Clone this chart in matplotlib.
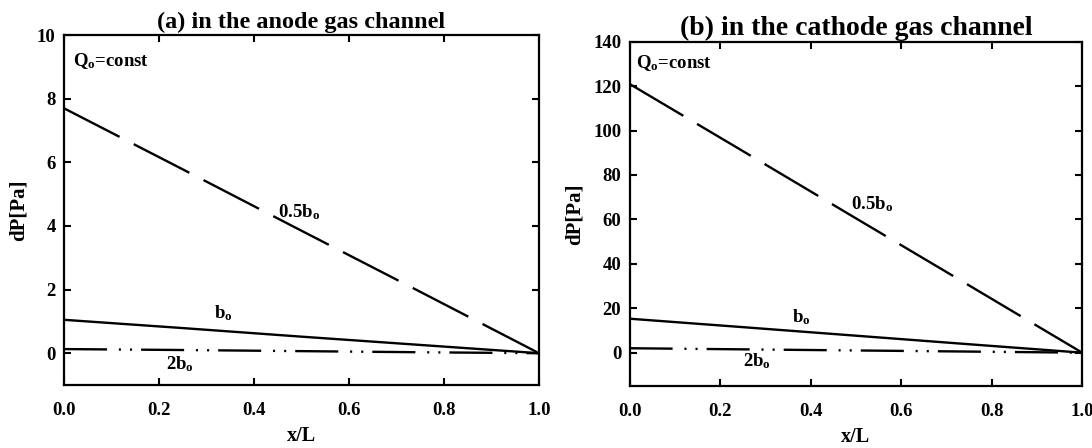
import numpy as np
import matplotlib
matplotlib.use("Agg")
import matplotlib.pyplot as plt

plt.rcParams['font.family'] = 'Liberation Serif'
plt.rcParams['font.weight'] = 'bold'
plt.rcParams['mathtext.fontset'] = 'custom'
plt.rcParams['mathtext.rm'] = 'Liberation Serif:bold'
plt.rcParams['mathtext.bf'] = 'Liberation Serif:bold'
plt.rcParams['mathtext.default'] = 'bf'
plt.rcParams['lines.scale_dashes'] = False

# x/L positions along the channel
x = np.array([0.0, 0.25, 0.5, 0.75, 1.0])

# anode channel pressure drop [Pa]
anode_half = np.array([7.7, 5.78, 3.85, 1.93, 0.0])
anode_b = np.array([1.05, 0.79, 0.52, 0.26, 0.0])
anode_2b = np.array([0.13, 0.10, 0.065, 0.03, 0.0])

# cathode channel pressure drop [Pa]
cath_half = np.array([121.0, 90.8, 60.5, 30.3, 0.0])
cath_b = np.array([15.3, 11.5, 7.65, 3.8, 0.0])
cath_2b = np.array([2.0, 1.5, 1.0, 0.5, 0.0])

long_dash = (0, (45, 11.5))
dash_dot_dot = (0, (31, 8.5, 1.5, 6.5, 1.5, 6.5))

fig = plt.figure(figsize=(10.92, 4.48), dpi=100)
ax1 = fig.add_axes([0.0586, 0.1406, 0.435, 0.781])
ax2 = fig.add_axes([0.5765, 0.1384, 0.4145, 0.7685])


def style(ax, ylim, yticks):
    ax.set_xlim(0, 1)
    ax.set_ylim(*ylim)
    ax.set_xticks([0.0, 0.2, 0.4, 0.6, 0.8, 1.0])
    ax.set_xticklabels(['0.0', '0.2', '0.4', '0.6', '0.8', '1.0'])
    ax.set_yticks(yticks)
    ax.tick_params(direction='in', top=True, right=True, length=5, width=1.5,
                   labelsize=13.5)
    ax.tick_params(axis='x', pad=12)
    ax.tick_params(axis='y', pad=6)
    for s in ax.spines.values():
        s.set_linewidth(1.6)
    ax.set_xlabel('x/L', fontsize=14.5, fontweight='bold', labelpad=5)
    ax.set_ylabel('dP[Pa]', fontsize=15, fontweight='bold', labelpad=6)


for ax, half, b, b2 in [(ax1, anode_half, anode_b, anode_2b),
                        (ax2, cath_half, cath_b, cath_2b)]:
    ax.plot(x, half, color='black', lw=1.7, linestyle=long_dash)
    ax.plot(x, b, color='black', lw=1.7)
    ax.plot(x, b2, color='black', lw=1.7, linestyle=dash_dot_dot)

style(ax1, (-1, 10), np.arange(0, 11, 2))
style(ax2, (-15, 140), np.arange(0, 141, 20))

ax1.set_title('(a) in the anode gas channel', fontsize=17.5, fontweight='bold', pad=5)
ax2.set_title('(b) in the cathode gas channel', fontsize=20, fontweight='bold', pad=5)

fs = 13.5
ax1.text(0.02, 9.2, r'Q$_o$=const', fontsize=fs, va='center')
ax1.text(0.45, 4.45, r'0.5b$_o$', fontsize=fs, va='center')
ax1.text(0.315, 1.25, r'b$_o$', fontsize=fs, va='center')
ax1.text(0.215, -0.35, r'2b$_o$', fontsize=fs, va='center')

ax2.text(0.015, 130.3, r'Q$_o$=const', fontsize=fs, va='center')
ax2.text(0.49, 67, r'0.5b$_o$', fontsize=fs, va='center')
ax2.text(0.36, 16.2, r'b$_o$', fontsize=fs, va='center')
ax2.text(0.25, -4, r'2b$_o$', fontsize=fs, va='center')

fig.savefig('out.png', dpi=100)
